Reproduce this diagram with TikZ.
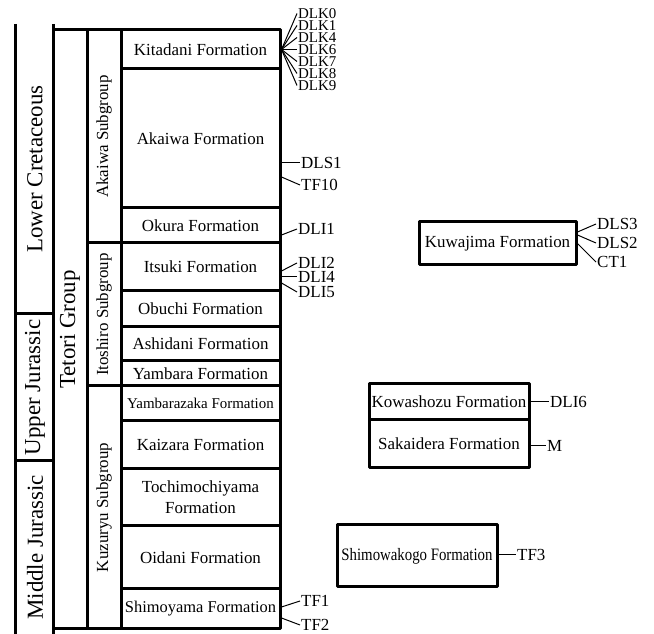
\documentclass[tikz,border=0pt]{standalone}
\usepackage{fontspec}
\setmainfont{Liberation Serif}
\begin{document}
\begin{tikzpicture}[line join=bevel,
  fm/.style={draw,line width=3bp,minimum width=159bp,inner sep=0bp,align=center,font=\fontsize{17}{21}\selectfont},
  sg/.style={draw,line width=3bp,rotate=90,minimum height=34bp,inner sep=0bp,font=\fontsize{17}{21}\selectfont},
  per/.style={draw=none,rotate=90,inner sep=0bp,font=\fontsize{23}{24}\selectfont},
  lbl/.style={anchor=west,inner sep=1bp,font=\fontsize{17}{17}\selectfont},
  lbk/.style={lbl,font=\fontsize{15}{15}\selectfont},
  rule/.style={line width=3bp},
  tie/.style={black,line width=1bp}]
\useasboundingbox (0bp,0bp) rectangle (654bp,634bp);
%%
\node (node_lower) at (35bp,465bp) [per] {Lower Cretaceous};
  \node (node_upper) at (35bp,246.5bp) [per] {Upper Jurassic};
  \node (node_middle) at (35bp,86.5bp) [per] {Middle Jurassic};
  \draw [rule] (15bp,610bp) -- (15bp,0bp);
  \draw [rule] (53bp,610bp) -- (53bp,0bp);
  \draw [rule] (15bp,320bp) -- (53bp,320bp);
  \draw [rule] (15bp,173bp) -- (53bp,173bp);
%
\node (node_tetori) at (70bp,304.5bp) [sg,minimum width=599bp,font=\fontsize{23}{24}\selectfont] {Tetori Group};
  \node (node_akaiwasg) at (104bp,497.5bp) [sg,minimum width=213bp] {Akaiwa Subgroup};
  \node (node_itoshirosg) at (104bp,319.5bp) [sg,minimum width=143bp] {Itoshiro Subgroup};
  \node (node_kuzuryusg) at (104bp,126.5bp) [sg,minimum width=243bp] {Kuzuryu Subgroup};
%
\node (node_kitadani) at (200.5bp,584.5bp) [fm,minimum height=39bp] {Kitadani Formation};
  \node (node_akaiwa) at (200.5bp,495.5bp) [fm,minimum height=139bp] {Akaiwa Formation};
  \node (node_okura) at (200.5bp,408.5bp) [fm,minimum height=35bp] {Okura Formation};
  \node (node_itsuki) at (200.5bp,367bp) [fm,minimum height=48bp] {Itsuki Formation};
  \node (node_obuchi) at (200.5bp,325bp) [fm,minimum height=36bp] {Obuchi Formation};
  \node (node_ashidani) at (200.5bp,290bp) [fm,minimum height=34bp] {Ashidani Formation};
  \node (node_yambara) at (200.5bp,260.5bp) [fm,minimum height=25bp] {Yambara Formation};
  \node (node_yambarazaka) at (200.5bp,230.5bp) [fm,minimum height=35bp,font=\fontsize{15}{17}\selectfont] {Yambarazaka Formation};
  \node (node_kaizara) at (200.5bp,189bp) [fm,minimum height=48bp] {Kaizara Formation};
  \node (node_tochimochiyama) at (200.5bp,136.5bp) [fm,minimum height=57bp] {Tochimochiyama\\Formation};
  \node (node_oidani) at (200.5bp,76.5bp) [fm,minimum height=63bp] {Oidani Formation};
  \node (node_shimoyama) at (200.5bp,25bp) [fm,minimum height=40bp,font=\fontsize{16.5}{20}\selectfont] {Shimoyama Formation};
%
\node (node_kuwajima) at (497.5bp,390.5bp) [fm,minimum width=157bp,minimum height=43bp] {Kuwajima Formation};
  \node (node_kowashozu) at (449bp,232bp) [fm,minimum width=160bp,minimum height=36bp] {Kowashozu Formation};
  \node (node_sakaidera) at (449bp,190bp) [fm,minimum width=160bp,minimum height=48bp] {Sakaidera Formation};
  \node (node_shimowakogo) at (417bp,78bp) [fm,minimum width=160bp,minimum height=62bp,font=\fontsize{17.5}{20}\selectfont] {\scalebox{0.85}[1]{Shimowakogo Formation}};
%
\node (node_dlk0) at (297bp,620.5bp) [lbk] {DLK0};
  \node (node_dlk1) at (297bp,608.5bp) [lbk] {DLK1};
  \node (node_dlk4) at (297bp,596.5bp) [lbk] {DLK4};
  \node (node_dlk6) at (297bp,584.5bp) [lbk] {DLK6};
  \node (node_dlk7) at (297bp,572.5bp) [lbk] {DLK7};
  \node (node_dlk8) at (297bp,560.5bp) [lbk] {DLK8};
  \node (node_dlk9) at (297bp,548.5bp) [lbk] {DLK9};
  \node (node_dls1) at (300bp,471bp) [lbl] {DLS1};
  \node (node_tf10) at (300bp,449bp) [lbl] {TF10};
  \node (node_dli1) at (297bp,405bp) [lbl] {DLI1};
  \node (node_dli2) at (297bp,371bp) [lbl] {DLI2};
  \node (node_dli4) at (297bp,357bp) [lbl] {DLI4};
  \node (node_dli5) at (297bp,342bp) [lbl] {DLI5};
  \node (node_tf1) at (300bp,33bp) [lbl] {TF1};
  \node (node_tf2) at (300bp,9bp) [lbl] {TF2};
  \node (node_dls3) at (596bp,410bp) [lbl] {DLS3};
  \node (node_dls2) at (596bp,391bp) [lbl] {DLS2};
  \node (node_ct1) at (596bp,372bp) [lbl] {CT1};
  \node (node_dli6) at (549bp,232bp) [lbl] {DLI6};
  \node (node_m) at (546bp,188bp) [lbl] {M};
  \node (node_tf3) at (516bp,79bp) [lbl] {TF3};
%
\foreach \k in {0,1,4,6,7,8,9}
  \draw [tie] (node_kitadani.east) -- (node_dlk\k.west);
  \draw [tie] (node_akaiwa.east |- node_dls1) -- (node_dls1.west);
  \draw [tie] ([yshift=-38.5bp]node_akaiwa.east) -- (node_tf10.west);
  \draw [tie] ([yshift=-9.5bp]node_okura.east) -- (node_dli1.west);
  \draw [tie] ([yshift=-4bp]node_itsuki.east) -- (node_dli2.west);
  \draw [tie] (node_itsuki.east |- node_dli4) -- (node_dli4.west);
  \draw [tie] ([yshift=-16bp]node_itsuki.east) -- (node_dli5.west);
  \draw [tie] ([yshift=2bp]node_shimoyama.east) -- (node_tf1.west);
  \draw [tie] ([yshift=-9bp]node_shimoyama.east) -- (node_tf2.west);
  \draw [tie] ([yshift=11.5bp]node_kuwajima.east) -- (node_dls3.west);
  \draw [tie] ([yshift=8.5bp]node_kuwajima.east) -- (node_dls2.west);
  \draw [tie] (node_kuwajima.east) -- (node_ct1.west);
  \draw [tie] (node_kowashozu.east |- node_dli6) -- (node_dli6.west);
  \draw [tie] (node_sakaidera.east |- node_m) -- (node_m.west);
  \draw [tie] (node_shimowakogo.east |- node_tf3) -- (node_tf3.west);
%
\end{tikzpicture}
\end{document}
